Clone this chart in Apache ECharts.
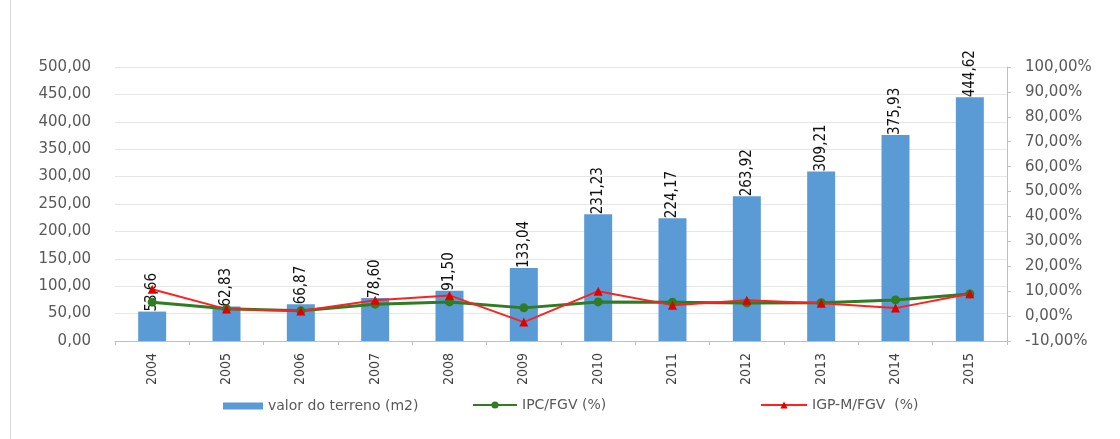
<!DOCTYPE html>
<html><head><meta charset="utf-8">
<script src="https://cdn.jsdelivr.net/npm/echarts@6/dist/echarts.min.js"></script>
<style>html,body{margin:0;padding:0;background:#fff}#c{width:1120px;height:439px}</style>
</head><body><div id="c"></div>
<script>
const years = ['2004','2005','2006','2007','2008','2009','2010','2011','2012','2013','2014','2015'];
const valorTerreno = [53.66,62.83,66.87,78.60,91.50,133.04,231.23,224.17,263.92,309.21,375.93,444.62];
const ipcFgv = [5.6,2.9,2.1,4.8,5.7,3.3,5.7,5.6,5.3,5.4,6.5,8.9];
const igpmFgv = [10.8,2.8,2.0,6.4,8.3,-2.4,10.0,4.4,6.4,5.2,3.2,9.0];
const leftTicks = {min:0,max:500,interval:50};
const rightTicks = {min:-10,max:100,interval:10};
const seriesNames = ['valor do terreno (m2)','IPC/FGV (%)','IGP-M/FGV  (%)'];

const chart = echarts.init(document.getElementById('c'));
const fmt = v => v.toFixed(2).replace('.', ',');
const legendText = {fontFamily:'DejaVu Sans',fontSize:14,color:'#595959'};
const condensed = '"DejaVu Sans Condensed", "Liberation Sans Narrow", "DejaVu Sans"';
chart.setOption({
  animation:false,
  backgroundColor:'#fff',
  graphic:[{type:'line',shape:{x1:10.5,y1:0,x2:10.5,y2:439},style:{stroke:'#d9d9d9',lineWidth:1}}],
  grid:{left:115,right:113,top:67,bottom:98},
  legend:[
    {top:394,left:218,itemWidth:40,itemHeight:7,itemGap:5,textStyle:legendText,data:[{name:seriesNames[0],icon:'rect'}]},
    {top:393,left:467,itemWidth:44,itemHeight:9,textStyle:legendText,data:[seriesNames[1]]},
    {top:393,left:755,itemWidth:46,itemHeight:9,textStyle:legendText,data:[seriesNames[2]]}
  ],
  xAxis:{
    type:'category',data:years,boundaryGap:true,
    axisLine:{lineStyle:{color:'#bfbfbf'}},
    axisTick:{show:true,length:4,lineStyle:{color:'#bfbfbf'}},
    axisLabel:{rotate:90,color:'#404040',fontFamily:condensed,fontSize:14,margin:12}
  },
  yAxis:[{
    type:'value',min:leftTicks.min,max:leftTicks.max,interval:leftTicks.interval,
    axisLine:{show:false},axisTick:{show:false},
    splitLine:{lineStyle:{color:'#e6e6e6'}},
    axisLabel:{formatter:fmt,color:'#595959',fontFamily:'DejaVu Sans',fontSize:15,margin:24}
  },{
    type:'value',min:rightTicks.min,max:rightTicks.max,interval:rightTicks.interval,
    axisLine:{show:true,lineStyle:{color:'#bfbfbf'}},
    axisTick:{show:true,length:4,inside:false,lineStyle:{color:'#bfbfbf'}},
    splitLine:{show:false},
    axisLabel:{formatter:v=>fmt(v)+'%',color:'#595959',fontFamily:'DejaVu Sans',fontSize:15,margin:18}
  }],
  series:[{
    name:seriesNames[0],type:'bar',data:valorTerreno,barWidth:28,
    itemStyle:{color:'#5b9bd5'},
    label:{show:true,position:'top',rotate:90,align:'left',verticalAlign:'middle',distance:0,
      formatter:p=>fmt(p.value),color:'#111',fontFamily:condensed,fontSize:15}
  },{
    name:seriesNames[1],type:'line',yAxisIndex:1,data:ipcFgv,
    symbol:'circle',symbolSize:9,lineStyle:{color:'#2e7d22',width:3},itemStyle:{color:'#2e7d22'}
  },{
    name:seriesNames[2],type:'line',yAxisIndex:1,data:igpmFgv,
    symbol:'triangle',symbolSize:9,lineStyle:{color:'#ff2020',width:2},itemStyle:{color:'#e00000'}
  }]
});
</script></body></html>
